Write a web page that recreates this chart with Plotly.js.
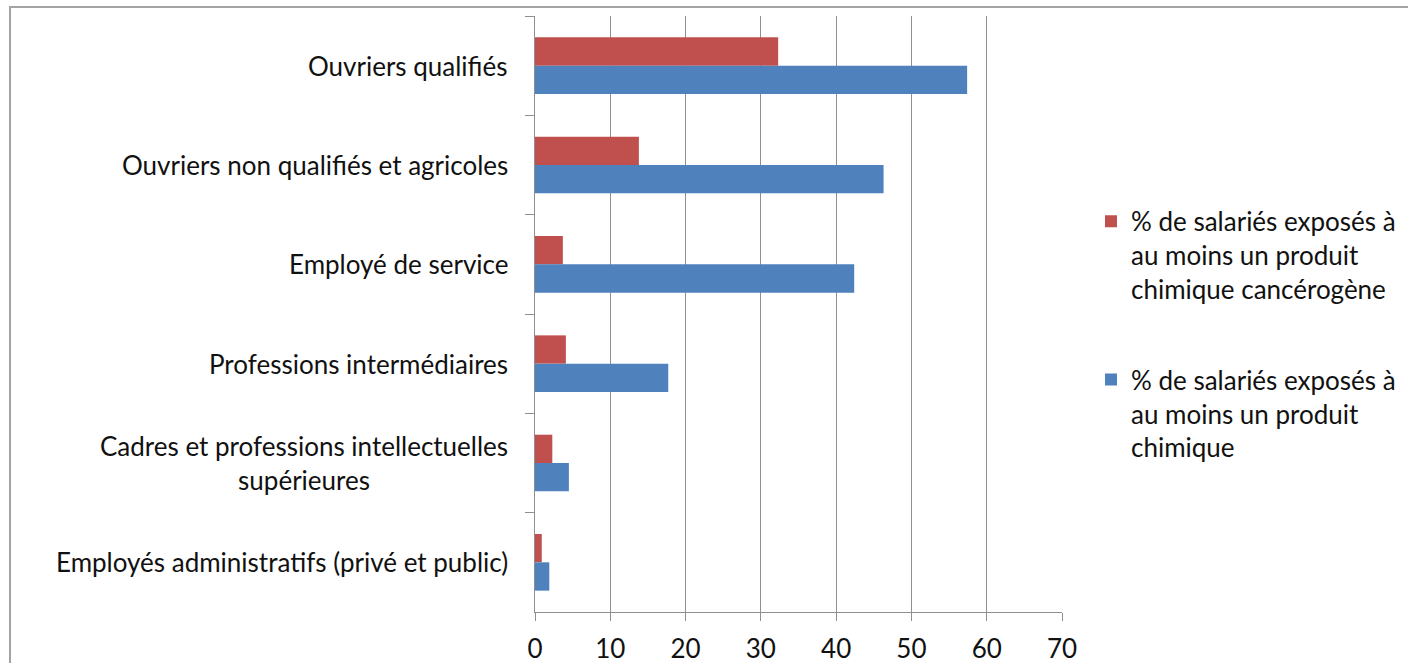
<!DOCTYPE html>
<html>
<head>
<meta charset="utf-8">
<script src="https://cdn.plot.ly/plotly-3.0.1.min.js"></script>
<style>
  html, body { margin: 0; padding: 0; background: #ffffff; }
  #frame { position: absolute; left: 9px; top: 6px; width: 1410px; height: 670px;
           border-left: 2px solid #a3a3a3; border-top: 2px solid #a3a3a3; }
  #chart { position: absolute; left: 0; top: 0; width: 1408px; height: 663px; }
</style>
</head>
<body>
<div id="frame"></div>
<div id="chart"></div>
<script>
// Categories, top to bottom as in the reference
const categories = [
  "Ouvriers qualifiés",
  "Ouvriers non qualifiés et agricoles",
  "Employé de service",
  "Professions intermédiaires",
  "Cadres et professions intellectuelles<br>supérieures",
  "Employés administratifs (privé et public)"
];
const seriesNames = [
  "% de salariés exposés à<br>au moins un produit<br>chimique cancérogène",
  "% de salariés exposés à<br>au moins un produit<br>chimique"
];
const cancerogene = [32.3, 13.8, 3.7, 4.1, 2.3, 0.9];
const chimique    = [57.4, 46.3, 42.4, 17.7, 4.5, 1.9];
const xTicks = [0, 10, 20, 30, 40, 50, 60, 70];

const FONT = "Lato, 'Noto Sans', sans-serif";
const TXT = "#111111";
const GRID = "#8f8f8f";

const traces = [
  { type: "bar", orientation: "h", name: seriesNames[0], y: categories, x: cancerogene,
    marker: { color: "#C0504D", line: { width: 0 } }, legendgroup: "a", hoverinfo: "x+y" },
  { type: "bar", orientation: "h", name: seriesNames[1], y: categories, x: chimique,
    marker: { color: "#4F81BD", line: { width: 0 } }, legendgroup: "b", hoverinfo: "x+y" }
];

const annotations = categories.map(c => ({
  xref: "paper", yref: "y", x: 0, y: c, text: c,
  xanchor: "right", yanchor: "middle", align: "center", xshift: -25,
  showarrow: false, font: { family: FONT, size: 26, color: TXT }
}));

const layout = {
  width: 1408, height: 663,
  margin: { l: 535, r: 346, t: 16, b: 51, pad: 0, autoexpand: false },
  paper_bgcolor: "rgba(0,0,0,0)", plot_bgcolor: "rgba(0,0,0,0)",
  barmode: "group", bargap: 0.43, bargroupgap: 0,
  font: { family: FONT, size: 26, color: TXT },
  xaxis: {
    range: [0, 70], tickvals: xTicks, ticktext: xTicks.map(String),
    showgrid: true, gridcolor: GRID, gridwidth: 1, zeroline: false,
    showline: true, linecolor: GRID, linewidth: 1,
    ticks: "outside", ticklen: 8, tickcolor: GRID, tickwidth: 1,
    ticklabelstandoff: 6,
    tickfont: { family: FONT, size: 26, color: TXT }, fixedrange: true
  },
  yaxis: {
    type: "category", autorange: "reversed", tickson: "boundaries",
    showticklabels: false, showgrid: false, zeroline: false,
    showline: true, linecolor: GRID, linewidth: 1,
    ticks: "outside", ticklen: 9, tickcolor: GRID, tickwidth: 1, fixedrange: true
  },
  showlegend: true,
  legend: {
    x: 1.055, xanchor: "left", y: 0.695, yanchor: "top",
    traceorder: "grouped", tracegroupgap: 54, valign: "top",
    font: { family: FONT, size: 26, color: TXT }, bgcolor: "rgba(0,0,0,0)"
  },
  annotations: annotations
};

Plotly.newPlot("chart", traces, layout, { displayModeBar: false, staticPlot: true });
</script>
</body>
</html>
